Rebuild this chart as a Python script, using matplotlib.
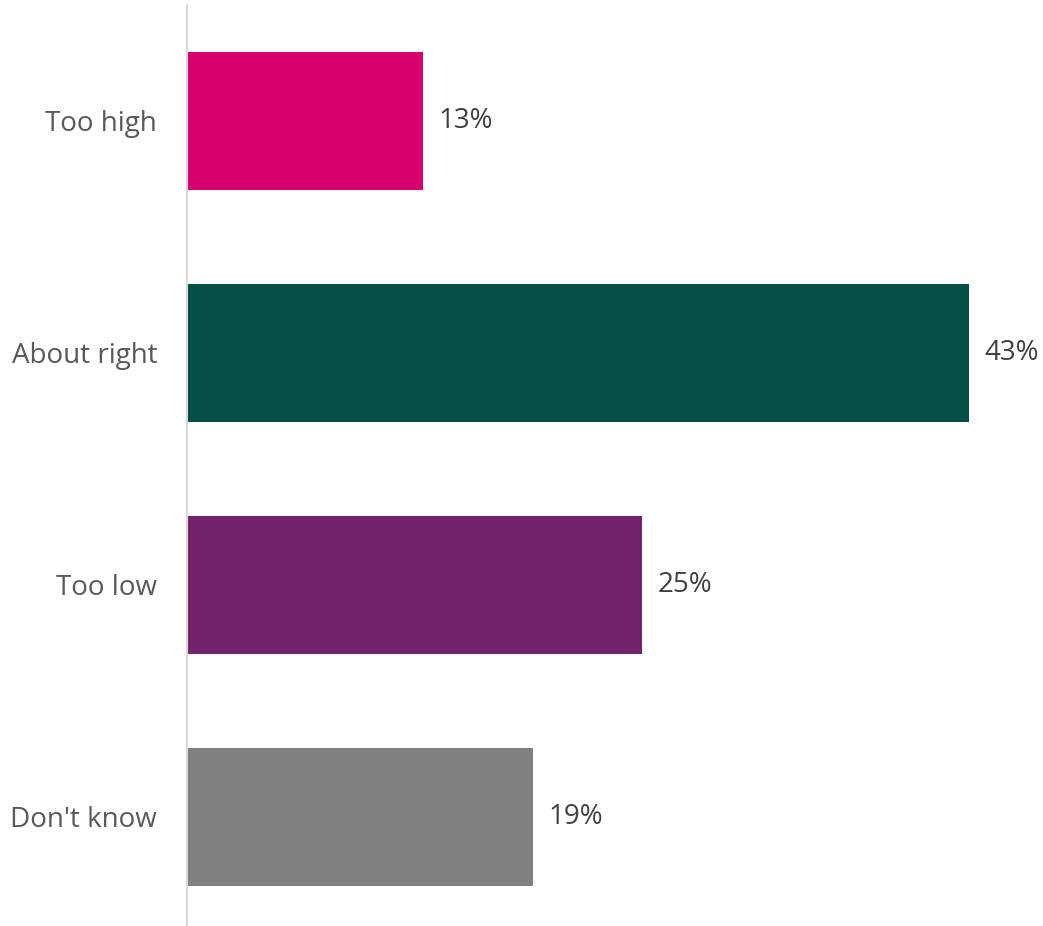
import matplotlib
matplotlib.use("Agg")
import matplotlib.pyplot as plt

categories = ["Too high", "About right", "Too low", "Don't know"]
values = [13, 43, 25, 19]
labels = ["13%", "43%", "25%", "19%"]
colors = ["#D6006E", "#034E45", "#74226C", "#808080"]

plt.rcParams['font.family'] = ['Open Sans', 'DejaVu Sans']
W, H = 1043, 926
fig = plt.figure(figsize=(W / 100, H / 100), dpi=100)
left, right = 187 / W, 1.0
top, bottom = 1 - 5 / H, 1 - 925 / H
ax = fig.add_axes([left, bottom, right - left, top - bottom])

y = list(range(len(categories)))
ax.barh(y, values, height=0.595, color=colors)
ax.set_ylim(3.466, -0.5)
ax.set_xlim(0, 47.06)
for yi, v, lab in zip(y, values, labels):
    ax.text(v + 0.85, yi, lab, va='center', ha='left', fontsize=20, color='#404040')

ax.set_yticks(y)
ax.set_yticklabels(categories, fontsize=20, color='#595959')
ax.tick_params(axis='y', length=0, pad=21.5)
ax.set_xticks([])
for s in ['top', 'right', 'bottom']:
    ax.spines[s].set_visible(False)
ax.spines['left'].set_color('#D9D9D9')
ax.spines['left'].set_linewidth(1.5)

fig.savefig("out.png", dpi=100)
